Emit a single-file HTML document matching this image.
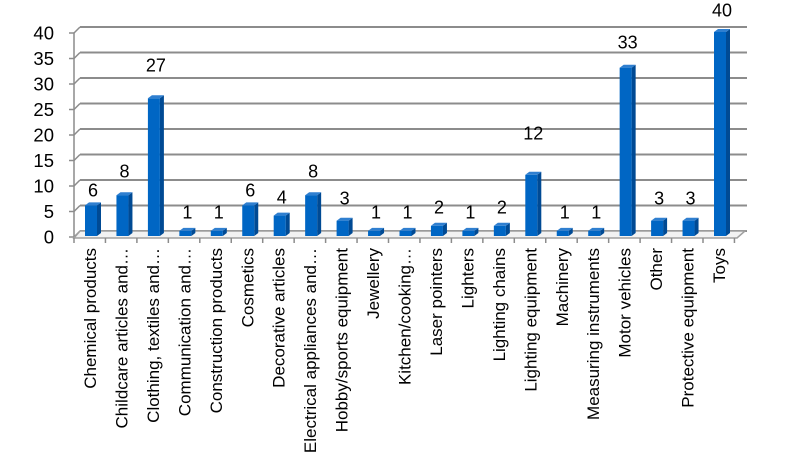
<!DOCTYPE html>
<html><head><meta charset="utf-8"><style>
html,body{margin:0;padding:0;background:#fff;}
svg{display:block;font-family:"Liberation Sans",sans-serif;}
</style></head><body>
<svg id="s" width="791" height="453" viewBox="0 0 791 453" xmlns="http://www.w3.org/2000/svg"></svg>
<script>
const s=document.getElementById('s');
const NS='http://www.w3.org/2000/svg';
function el(t,a,txt){const e=document.createElementNS(NS,t);for(const k in a)e.setAttribute(k,a[k]);if(txt!==undefined)e.textContent=txt;s.appendChild(e);return e;}
const names=["Chemical products","Childcare articles and\u2026","Clothing, textiles and\u2026","Communication and\u2026","Construction products","Cosmetics","Decorative articles","Electrical appliances and\u2026","Hobby/sports equipment","Jewellery","Kitchen/cooking\u2026","Laser pointers","Lighters","Lighting chains","Lighting equipment","Machinery","Measuring instruments","Motor vehicles","Other","Protective equipment","Toys"];
const vals=[6,8,27,1,1,6,4,8,3,1,1,2,1,2,12,1,1,33,3,3,40];
const step=31.45, x0=74;
const fy=v=>237-5.1*v;
for(let v=0;v<=40;v+=5){
  const y=fy(v);
  el('line',{x1:80,y1:y-6,x2:747,y2:y-6,stroke:'#8c8c8c','stroke-width':2});
  el('line',{x1:74,y1:y,x2:80,y2:y-6,stroke:'#8c8c8c','stroke-width':1.5});
  el('line',{x1:69,y1:y,x2:74,y2:y,stroke:'#8c8c8c','stroke-width':1.5});
  el('text',{x:54,y:y+6.5,'font-size':18.5,'text-anchor':'end',fill:'#000'},String(v));
}
el('line',{x1:74,y1:fy(40),x2:74,y2:238,stroke:'#8c8c8c','stroke-width':1.5});
el('polygon',{points:'74,238 737,238 745,231 80,231',fill:'#f2f2f2',stroke:'#a0a0a0','stroke-width':1.5});
for(let i=0;i<=21;i++){const x=x0+step*i;el('line',{x1:x,y1:238,x2:x,y2:243,stroke:'#8c8c8c','stroke-width':1.5});}
const labY=[190,171,65,212,212,190,197,171,198,212,212,207,212,207,133,212,212,42,198,198,10];
vals.forEach((v,i)=>{
  const bx=85+step*i, w=12, d=4, dy=3;
  const top=fy(v)-1, bot=236;
  el('polygon',{points:`${bx+w},${top} ${bx+w+d},${top-dy} ${bx+w+d},${bot-dy} ${bx+w},${bot}`,fill:'#004a94'});
  el('polygon',{points:`${bx},${top} ${bx+d},${top-dy} ${bx+w+d},${top-dy} ${bx+w},${top}`,fill:'#2f7fd0'});
  el('rect',{x:bx,y:top,width:w,height:bot-top,fill:'#0066c4'});
  el('text',{x:bx+8,y:labY[i]+6.5,'font-size':18,'text-anchor':'middle',fill:'#000'},String(v));
});
names.forEach((n,i)=>{
  const cx=90+step*i;
  el('text',{x:0,y:0,'font-size':17,'text-anchor':'end',fill:'#000',transform:`translate(${cx+6},248) rotate(-90)`},n);
});
</script>
</body></html>
